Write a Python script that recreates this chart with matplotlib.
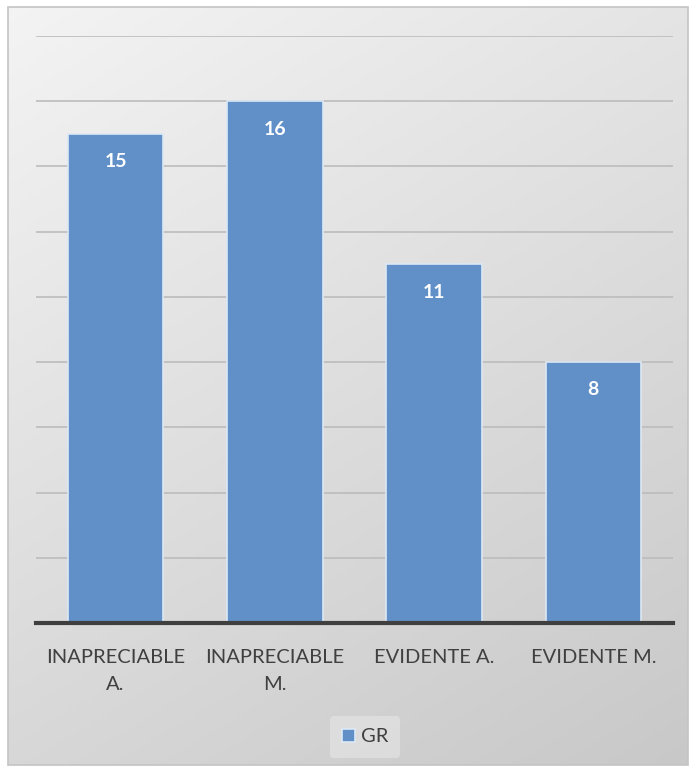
import numpy as np
import matplotlib.pyplot as plt
from matplotlib.patches import Rectangle

categories = ['INAPRECIABLE\nA.', 'INAPRECIABLE\nM.', 'EVIDENTE A.', 'EVIDENTE M.']
valores = [15, 16, 11, 8]
serie = 'GR'

plt.rcParams['font.family'] = ['Lato', 'DejaVu Sans']

fig = plt.figure(figsize=(6.92, 7.71), dpi=100)

# fondo con degradado diagonal (claro arriba a la izquierda, gris abajo a la derecha)
bg = fig.add_axes([0, 0, 1, 1], zorder=-2)
bg.set_axis_off()
yy, xx = np.mgrid[0:1:200j, 0:1:200j]
t = 0.65 * yy + 0.35 * xx
gris = 0.955 - 0.17 * t
img = np.dstack([gris, gris, gris])
bg.imshow(img, extent=[8/692, 688/692, 6/771, 764/771], origin='upper', aspect='auto')
bg.set_xlim(0, 1)
bg.set_ylim(0, 1)
bg.add_patch(Rectangle((8/692, 6/771), 680/692, 758/771, fill=False, edgecolor='#c4c4c4', lw=1.2))

ax = fig.add_axes([36/692, 1 - 623/771, (673 - 36)/692, (623 - 36)/771])
ax.patch.set_alpha(0)

x = np.arange(len(categories))
bars = ax.bar(x, valores, width=0.6, color='#6190c8', edgecolor='#dce8f5', linewidth=1.2,
              label=serie, zorder=3)
for b, v in zip(bars, valores):
    ax.annotate(str(v), (b.get_x() + b.get_width() / 2, v), xytext=(0, -20),
                textcoords='offset points', ha='center', va='center',
                color='white', fontsize=14, fontweight='bold', zorder=4)

ax.set_xlim(-0.5, 3.5)
ax.set_ylim(0, 18)
ax.set_yticks(np.arange(2, 19, 2))
ax.yaxis.grid(True, color='#bcbcbc', linewidth=1.2, zorder=0)
ax.tick_params(axis='y', left=False, labelleft=False)
ax.tick_params(axis='x', bottom=False, labelsize=14.5, labelcolor='#404040', pad=15)
ax.set_xticks(x)
ax.set_xticklabels(categories, linespacing=1.75)
for s in ['top', 'right', 'left']:
    ax.spines[s].set_visible(False)
ax.spines['bottom'].set_color('#3f3f3f')
ax.spines['bottom'].set_linewidth(3)
ax.spines['bottom'].set_zorder(5)

leg = fig.legend(loc='center', bbox_to_anchor=(365/692, 1 - 737/771), frameon=True,
                 fontsize=14.5, handlelength=0.65, handleheight=0.65, handletextpad=0.3,
                 borderpad=0.6, labelcolor='#404040')
leg.get_frame().set_facecolor('#e6e6e6')
leg.get_frame().set_edgecolor('none')
leg.get_frame().set_alpha(0.6)

fig.savefig('out.png', dpi=100)
